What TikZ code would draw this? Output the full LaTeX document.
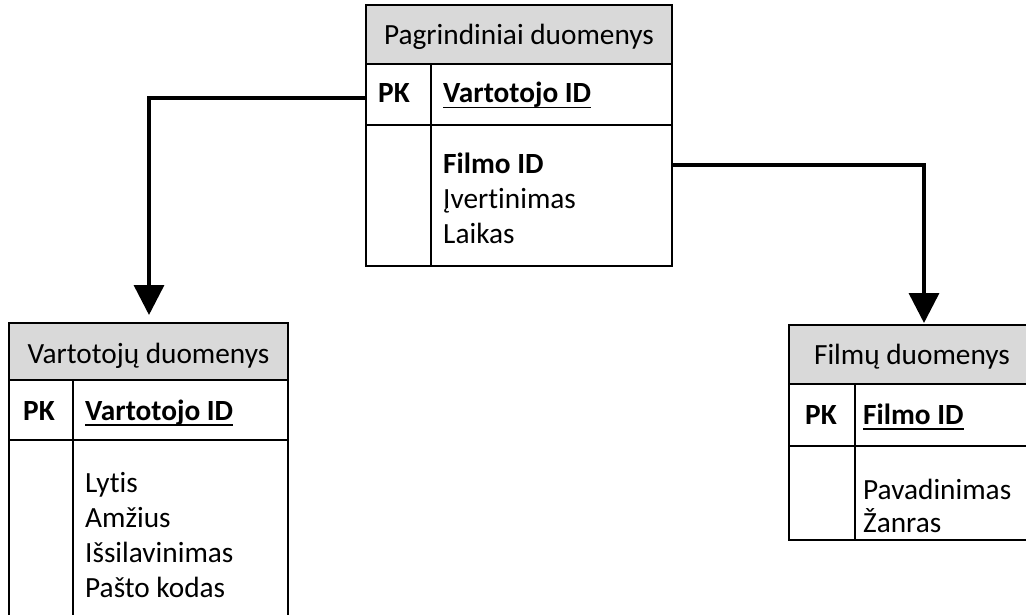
\documentclass[tikz,border=0pt]{standalone}
\usepackage{fontspec}
\setmainfont{Carlito}[Ligatures=NoCommon]
\usetikzlibrary{arrows.meta,calc}
\definecolor{hdrgray}{RGB}{217,217,217}
\newcommand\myul[1]{\setbox0\hbox{#1}\rlap{\rule[-5.5pt]{\wd0}{1.8pt}}\box0}
\begin{document}
\begin{tikzpicture}[x=1pt,y=-1pt,
  tbl/.style={draw=black, line width=1.8pt, rectangle, inner sep=0pt, outer sep=0pt, anchor=north west},
  hdr/.style={tbl, fill=hdrgray},
  txt/.style={font=\fontsize{29.3}{35}\selectfont, inner sep=0pt, anchor=base west},
  ttl/.style={font=\fontsize{29.3}{35}\selectfont, inner sep=0pt, anchor=base},
  divline/.style={line width=1.8pt},
  conn/.style={line width=3.5pt, -{Triangle[width=30pt,length=30pt]}}]
\useasboundingbox (0,0) rectangle (1026,615);
\clip (0,0) rectangle (1026,615);
\fill[white] (0,0) rectangle (1026,615);

% top table
\node[hdr, minimum width=306pt, minimum height=59pt] (Thdr) at (366,5) {};
\node[tbl, minimum width=306pt, minimum height=61pt] (Tpk) at (366,64) {};
\node[tbl, minimum width=306pt, minimum height=141pt] (Tbody) at (366,125) {};
\draw[divline] (431,64) -- (431,266);
\node[ttl] (tT) at (519,45) {Pagrindiniai duomenys};
\node[txt] (tTpk) at (378,103) {\textbf{PK}};
\node[txt] (tTid) at (443,103) {\textbf{\myul{Vartotojo ID}}};
\node[txt] (tT1) at (443,174) {\textbf{Filmo ID}};
\node[txt] (tT2) at (443,208.5) {Įvertinimas};
\node[txt] (tT3) at (443,243) {Laikas};

% left table
\node[hdr, minimum width=279pt, minimum height=57pt] (Lhdr) at (9,323) {};
\node[tbl, minimum width=279pt, minimum height=60pt] (Lpk) at (9,380) {};
\node[tbl, minimum width=279pt, minimum height=190pt] (Lbody) at (9,440) {};
\draw[divline] (73,380) -- (73,630);
\node[ttl] (tL) at (148.5,363) {Vartotojų duomenys};
\node[txt] (tLpk) at (23,420) {\textbf{PK}};
\node[txt] (tLid) at (85,420) {\textbf{\myul{Vartotojo ID}}};
\node[txt] (tL1) at (85,492) {Lytis};
\node[txt] (tL2) at (85,527) {Amžius};
\node[txt] (tL3) at (85,562) {Išsilavinimas};
\node[txt] (tL4) at (85,597) {Pašto kodas};

% right table (runs past the right edge of the picture)
\node[hdr, minimum width=262pt, minimum height=59pt] (Rhdr) at (789,325) {};
\node[tbl, minimum width=262pt, minimum height=62pt] (Rpk) at (789,384) {};
\node[tbl, minimum width=262pt, minimum height=94pt] (Rbody) at (789,446) {};
\draw[divline] (855,384) -- (855,540);
\node[ttl] (tR) at (912,364) {Filmų duomenys};
\node[txt] (tRpk) at (805,424) {\textbf{PK}};
\node[txt] (tRid) at (863,424) {\textbf{\myul{Filmo ID}}};
\node[txt] (tR1) at (863,499) {Pavadinimas};
\node[txt] (tR2) at (863,532) {Žanras};

% connectors
\draw[conn] ($(Tpk.west)+(0,3.5)$) -| ($(Lhdr.north west)+(140,-8)$);
\draw[conn] ($(Tbody.north east)+(0,40)$) -| ($(Rhdr.north west)+(135,-2)$);
\end{tikzpicture}
\end{document}
